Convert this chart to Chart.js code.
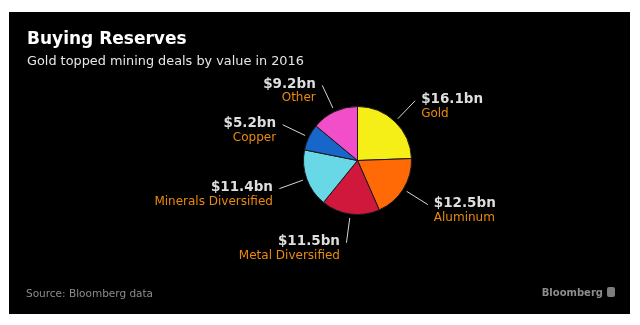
<!DOCTYPE html>
<html>
<head>
<meta charset="utf-8">
<title>Buying Reserves</title>
<script src="https://cdn.jsdelivr.net/npm/chart.js@4/dist/chart.umd.min.js"></script>
<style>
    body { margin: 0; background: #fff; width: 640px; height: 325px; position: relative; overflow: hidden; font-family: 'DejaVu Sans', sans-serif; }
    .panel { position: absolute; left: 9px; top: 12px; width: 621px; height: 302px; background: #000; }
    #pieChart { position: absolute; left: 0; top: 0; }
    .title { position: absolute; left: 27px; top: 30px; font-size: 17px; line-height: 17px; font-weight: bold; color: #fff; white-space: nowrap; }
    .subtitle { position: absolute; left: 27px; top: 54px; font-size: 12.85px; line-height: 13px; color: #e6e6e6; white-space: nowrap; }
    .source { position: absolute; left: 26px; top: 288px; font-size: 10.5px; line-height: 10.5px; color: #8c8c8c; white-space: nowrap; }
    .brand { position: absolute; right: 37px; top: 288px; font-size: 10px; line-height: 10.5px; font-weight: bold; color: #8c8c8c; white-space: nowrap; }
    .brand-icon { position: absolute; left: 607px; top: 287px; width: 8px; height: 10px; border-radius: 2px; background: #7d7d7d; }
</style>
</head>
<body>
<div class="panel"></div>
<canvas id="pieChart" width="640" height="325"></canvas>
<div class="title">Buying Reserves</div>
<div class="subtitle">Gold topped mining deals by value in 2016</div>
<div class="source">Source: Bloomberg data</div>
<div class="brand">Bloomberg</div>
<div class="brand-icon"></div>

<script>
// Deal value by sector, $bn
const categories = ['Gold', 'Aluminum', 'Metal Diversified', 'Minerals Diversified', 'Copper', 'Other'];
const values = [16.1, 12.5, 11.5, 11.4, 5.2, 9.2];
const sliceColors = ['#f6ee17', '#ff6a06', '#d0183c', '#68d8e6', '#1766c9', '#f24ec9'];

// Leader lines plus "$x.xbn" / category labels around the pie
const calloutPlugin = {
    id: 'callouts',
    afterDatasetsDraw(chart) {
        const ctx = chart.ctx;
        const meta = chart.getDatasetMeta(0);
        ctx.save();
        meta.data.forEach((arc, i) => {
            const mid = (arc.startAngle + arc.endAngle) / 2;
            const dx = Math.cos(mid);
            const dy = Math.sin(mid);
            const r = arc.outerRadius;
            const x1 = arc.x + dx * (r + 4);
            const y1 = arc.y + dy * (r + 4);
            const x2 = arc.x + dx * (r + 29);
            const y2 = arc.y + dy * (r + 29);

            ctx.strokeStyle = '#d6d6d6';
            ctx.lineWidth = 1;
            ctx.beginPath();
            ctx.moveTo(x1, y1);
            ctx.lineTo(x2, y2);
            ctx.stroke();

            const right = dx >= 0;
            const tx = right ? x2 + 6 : x2 - 6.5;
            ctx.textAlign = right ? 'left' : 'right';
            ctx.textBaseline = 'middle';

            ctx.font = 'bold 13.5px "DejaVu Sans"';
            ctx.fillStyle = '#dedede';
            ctx.fillText('$' + values[i].toFixed(1) + 'bn', tx, y2 - 1);

            ctx.font = '12px "DejaVu Sans"';
            ctx.fillStyle = '#ea8a0c';
            ctx.fillText(categories[i], tx, y2 + 13);
        });
        ctx.restore();
    }
};

new Chart(document.getElementById('pieChart'), {
    type: 'pie',
    data: {
        labels: categories,
        datasets: [{
            data: values,
            backgroundColor: sliceColors,
            borderColor: '#1a1a1a',
            borderWidth: 1,
            hoverOffset: 0
        }]
    },
    options: {
        responsive: false,
        animation: false,
        devicePixelRatio: 1,
        layout: {
            padding: { left: 303, right: 228, top: 106, bottom: 110 }
        },
        plugins: {
            legend: { display: false },
            tooltip: { enabled: false }
        }
    },
    plugins: [calloutPlugin]
});
</script>
</body>
</html>
